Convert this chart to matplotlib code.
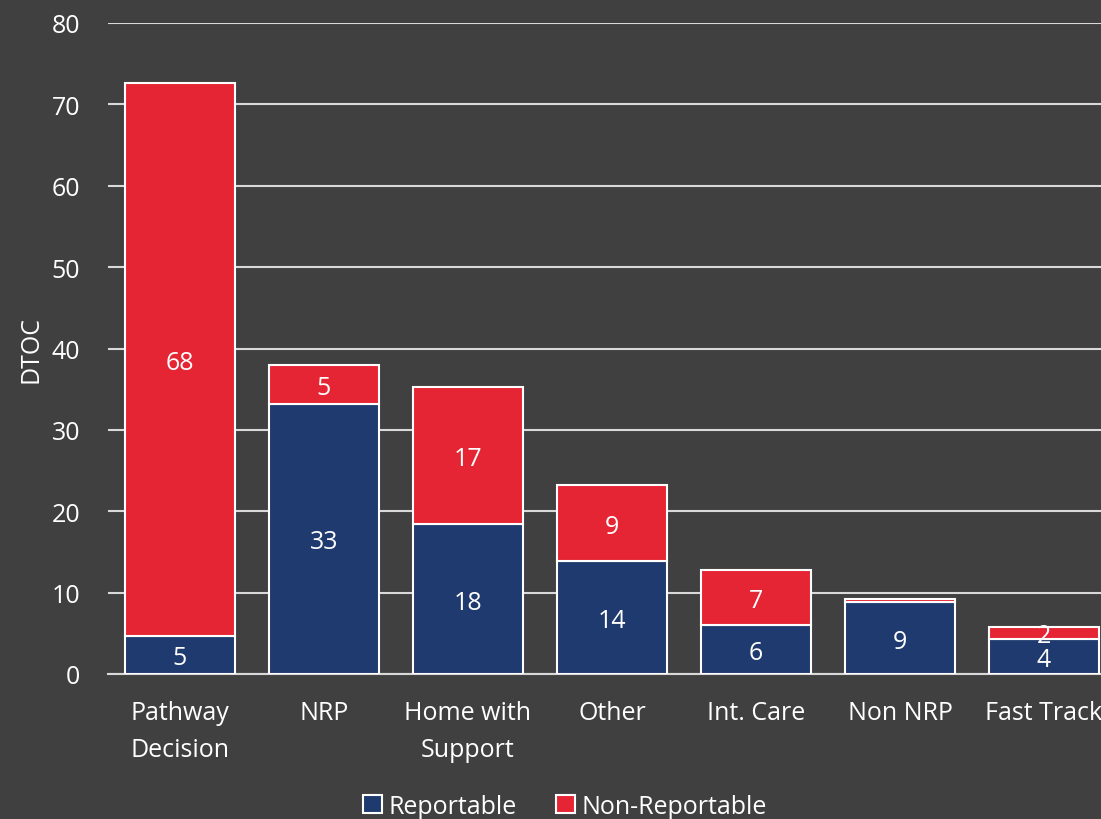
import matplotlib.pyplot as plt
import numpy as np

plt.rcParams['font.family'] = ['Open Sans', 'DejaVu Sans']

categories = ['Pathway\nDecision', 'NRP', 'Home with\nSupport', 'Other', 'Int. Care', 'Non NRP', 'Fast Track']
reportable = [4.7, 33.2, 18.4, 13.9, 6.0, 8.8, 4.3]
non_reportable = [67.9, 4.8, 16.9, 9.3, 6.8, 0.4, 1.5]

BG = '#404040'
BLUE = '#1F3A6E'
RED = '#E52534'
GRID = '#D9D9D9'
FS = 18

fig = plt.figure(figsize=(11.01, 8.2), dpi=100, facecolor=BG)
ax = fig.add_axes([108 / 1101, 145 / 820, 1008 / 1101, 651 / 820])
ax.set_facecolor(BG)

x = np.arange(len(categories))
w = 0.77
b1 = ax.bar(x, reportable, w, color=BLUE, edgecolor='white', linewidth=1.5, label='Reportable', zorder=3)
b2 = ax.bar(x, non_reportable, w, bottom=reportable, color=RED, edgecolor='white', linewidth=1.5,
            label='Non-Reportable', zorder=3)

# data labels, centred in each segment
for i in range(len(categories)):
    ax.text(x[i], reportable[i] / 2, f'{reportable[i]:.0f}', ha='center', va='center_baseline',
            color='white', fontsize=FS, zorder=4)
    if non_reportable[i] >= 1:
        ax.text(x[i], reportable[i] + non_reportable[i] / 2, f'{non_reportable[i]:.0f}',
                ha='center', va='center_baseline', color='white', fontsize=FS, zorder=4)

ax.set_xlim(-0.5, len(categories) - 0.5)
ax.set_ylim(0, 80)
ax.set_yticks(range(0, 81, 10))
ax.grid(axis='y', color=GRID, linewidth=1.5, zorder=0)
ax.set_axisbelow(True)
for s in ['top', 'right', 'left']:
    ax.spines[s].set_visible(False)
ax.spines['bottom'].set_color(GRID)
ax.spines['bottom'].set_linewidth(1.5)
ax.tick_params(axis='both', length=0, colors='white', labelsize=FS)
ax.tick_params(axis='y', pad=20)
ax.tick_params(axis='x', pad=19)
ax.set_xticks(x)
ax.set_xticklabels(categories, linespacing=1.6)
ax.set_ylabel('DTOC', color='white', fontsize=18, labelpad=6)

leg = fig.legend(handles=[b1, b2], loc='lower center', bbox_to_anchor=(0.513, -0.027), ncol=2,
                 frameon=False, fontsize=FS, handlelength=0.75, handleheight=0.75,
                 handletextpad=0.25, columnspacing=1.6)
for t in leg.get_texts():
    t.set_color('white')

fig.savefig('out.png', dpi=100, facecolor=BG)
